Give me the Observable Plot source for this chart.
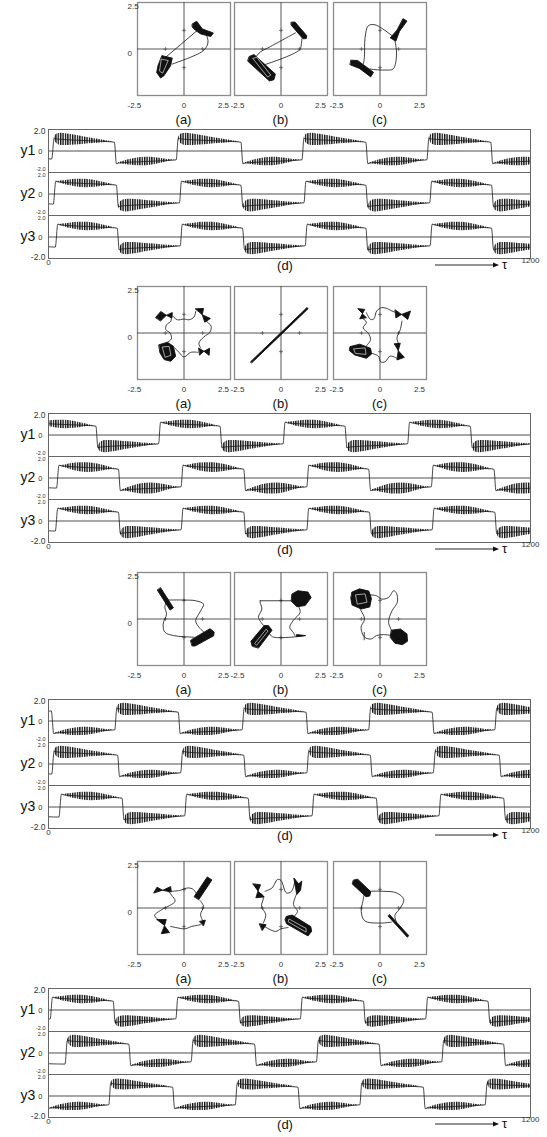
<!DOCTYPE html>
<html><head><meta charset="utf-8">
<script src="https://cdn.jsdelivr.net/npm/d3@7"></script>
<script src="https://cdn.jsdelivr.net/npm/@observablehq/plot@0.6"></script>
<style>
body{margin:0;background:#fff;}
#root{position:relative;width:547px;height:1137px;overflow:hidden;font-family:"Liberation Sans",Arial,sans-serif;color:#111;}
#root svg{overflow:visible;background:transparent;}
</style></head><body>
<svg width="0" height="0" style="position:absolute"><defs>
<pattern id="osc" width="2.4" height="8" patternUnits="userSpaceOnUse"><rect x="0" y="0" width="1.35" height="8" fill="#0d0d0d"/></pattern>
</defs></svg>
<div id="root"></div>
<script>
// ---------------- DATA ----------------
const portraitTicks = [-2.5, 0, 2.5];
const minorTicks = [-1, 1];
const panelNames = ["(a)", "(b)", "(c)"];
const rowNames = ["y1", "y2", "y3"];
const tsTicks = [2, 0, -2];
const timeTicks = [0, 1200];

// phase portraits: thin trajectories, dense (filled) attractor regions, inner loops
const b1_lines = [
  [[[-0.99,-0.45],[0.81,1.08]], [[-0.63,-0.81],[0.99,-0.13],[1.25,0.2],[1.29,0.45],[1.22,0.72]]],
  [[[-1.35,-0.42],[-1.1,-0.15],[-0.72,0.05],[0.78,0.87]], [[-0.9,-0.85],[0.99,-0.05],[1.1,0.3],[1.12,0.54]]],
  [[[-0.89,-0.80],[-0.84,-0.45],[-0.80,0.63],[-0.63,1.25],[-0.27,1.30],[0.54,0.80],[0.71,0.66]],
   [[0.80,0.45],[0.89,-0.27],[0.71,-1.07],[0.27,-1.13],[-0.27,-1.11],[-0.54,-1.07]]]
];
const b1_blobs = [
  [[[0.45,1.35],[0.68,1.49],[0.99,1.08],[1.58,0.86],[1.44,0.67],[0.90,0.81],[0.63,0.99],[0.45,1.17]],
   [[-1.17,-0.36],[-0.63,-0.49],[-0.72,-0.90],[-1.08,-1.44],[-1.26,-1.56],[-1.47,-1.26],[-1.40,-0.90]]],
  [[[0.56,1.44],[0.75,1.45],[1.38,0.72],[1.36,0.56],[1.18,0.55],[0.55,1.28]],
   [[-1.70,-0.40],[-1.45,-0.30],[-0.30,-1.35],[-0.38,-1.65],[-0.62,-1.72],[-1.78,-0.66]]],
  [[[1.25,1.62],[1.45,1.50],[1.05,0.95],[0.85,0.42],[0.55,0.6],[0.9,1.0]],
   [[-1.55,-0.6],[-1.2,-0.62],[-0.35,-1.25],[-0.5,-1.5],[-1.1,-1.05],[-1.6,-0.85]]]
];
const b1_holes = [
  [[[-1.2,-0.55],[-0.85,-0.62],[-1.15,-1.3],[-1.3,-1.2]]],
  [[[-1.5,-0.5],[-1.3,-0.45],[-0.55,-1.4],[-0.7,-1.5]]],
  []
];

const b2_lines = [
  [[[-0.63,0.93],[-0.36,0.71],[0,0.75],[0.27,0.71],[0.54,0.86],[0.63,1.16]],
   [[1.21,0.63],[1.46,0.36],[1.39,0.04],[1.07,-0.21],[0.8,-0.54],[0.89,-0.8]],
   [[0.75,-1.04],[0.36,-1.04],[0,-1.29],[-0.27,-1.04],[-0.5,-0.8]],
   [[-0.89,-0.5],[-0.68,-0.32],[-0.75,0],[-0.98,0.18],[-0.93,0.45],[-0.71,0.63],[-0.68,0.86]]],
  [],
  [[[-0.73,1.09],[-0.51,0.73],[-0.33,0.76],[-0.18,1.18],[0.09,1.36],[0.4,1.31],[0.64,1.18],[0.91,1.09]],
   [[1.18,0.64],[1.09,0.18],[0.91,-0.27],[1.0,-0.58]],
   [[0.91,-1.36],[0.55,-1.24],[0.27,-1.55],[0.04,-1.55],[-0.09,-1.24],[-0.45,-1.09]],
   [[-0.73,-0.69],[-0.51,-0.36],[-0.64,0],[-0.91,0.27],[-0.73,0.58],[-0.91,0.76]]]
];
const b2_blobs = [
  [[[-1.52,0.84],[-1.25,1.16],[-0.95,0.95],[-0.63,1.1],[-0.65,0.8],[-0.95,0.95],[-1.25,0.66]],
   [[0.62,1.3],[1.05,1.32],[0.98,0.98],[1.42,0.78],[1.12,0.58],[0.98,0.98]],
   [[-1.34,-0.63],[-0.89,-0.5],[-0.57,-0.71],[-0.45,-1.25],[-0.71,-1.52],[-1.07,-1.43],[-1.29,-1.07]],
   [[0.8,-0.82],[1.07,-0.98],[1.38,-0.82],[1.35,-1.2],[1.07,-0.98],[0.85,-1.18]]],
  [[[-1.63,-1.54],[1.40,1.37],[1.46,1.31],[-1.57,-1.60]]],
  [[[-1.18,1.31],[-0.82,1.27],[-0.95,1.03],[-0.73,0.82],[-1.09,0.76],[-0.95,1.03]],
   [[0.82,1.24],[1.16,1.0],[1.64,1.18],[1.49,0.73],[1.16,1.0],[0.87,0.82]],
   [[-1.6,-0.73],[-1.09,-0.6],[-0.51,-0.82],[-0.45,-1.13],[-0.73,-1.36],[-1.36,-1.18],[-1.64,-0.95]],
   [[0.78,-0.58],[1.09,-0.55],[0.98,-0.95],[1.31,-1.31],[0.91,-1.45],[0.98,-0.95]]]
];
const b2_holes = [
  [[[-1.15,-0.75],[-0.8,-0.72],[-0.7,-1.2],[-1.0,-1.3]]],
  [],
  [[[-1.4,-0.85],[-0.8,-0.8],[-0.75,-1.15],[-1.3,-1.1]]]
];

const b3_lines = [
  [[[-0.85,1.02],[-0.02,1.02],[0.63,0.98],[1.05,0.80],[0.90,0.45],[0.63,-0.09],[0.81,-0.45],[1.18,-0.80]],
   [[0.53,-0.98],[-0.02,-0.95],[-0.57,-0.89],[-1.03,-0.71],[-1.12,-0.27],[-0.94,0.27],[-1.03,0.63],[-0.94,0.98]]],
  [[[-1.12,0.98],[0.56,0.98]],
   [[-0.93,-0.36],[-1.21,0.09],[-1.03,0.54],[-1.12,0.89],[-1.12,0.98]],
   [[0.93,0.71],[1.03,0.36],[0.65,-0.09],[0.47,-0.45],[0.65,-0.71],[0.75,-0.89]],
   [[-0.7,-0.6],[-0.47,-0.95],[1.31,-0.89]]],
  [[[-0.56,1.30],[-0.19,1.25],[0.09,1.07],[0.46,1.16],[0.74,1.52],[0.89,1.38],[0.93,0.89],[0.65,0.45],[0.46,-0.18],[0.65,-0.66]],
   [[0.65,-0.89],[0.19,-0.84],[-0.19,-0.89],[-0.46,-1.07],[-0.83,-0.98],[-1.02,-0.45],[-0.83,0],[-1.02,0.45],[-1.11,0.63]],
   [[-0.85,-0.72],[-0.85,-1.12]]]
];
const b3_blobs = [
  [[[-1.25,1.67],[-0.57,0.60],[-0.75,0.48],[-1.43,1.55]],
   [[0.36,-1.15],[0.5,-1.05],[1.4,-0.52],[1.62,-0.7],[1.6,-0.9],[0.6,-1.45],[0.45,-1.45]]],
  [[[0.6,1.35],[0.9,1.52],[1.45,1.45],[1.62,1.15],[1.3,0.72],[0.85,0.66],[0.56,0.95]],
   [[-1.55,-1.45],[-1.62,-1.2],[-0.9,-0.35],[-0.68,-0.35],[-0.48,-0.6],[-1.2,-1.55]],
   [[0.85,-0.84],[1.31,-0.89],[0.85,-0.95]]],
  [[[-1.5,1.45],[-1.1,1.62],[-0.6,1.5],[-0.46,1.1],[-0.55,0.65],[-1.0,0.54],[-1.5,0.75],[-1.57,1.1]],
   [[0.62,-0.6],[1.1,-0.54],[1.45,-0.8],[1.48,-1.2],[1.2,-1.38],[0.8,-1.3],[0.56,-1.0]]]
];
const b3_holes = [
  [],
  [[[-1.4,-1.3],[-0.8,-0.55],[-0.7,-0.65],[-1.3,-1.4]]],
  [[[-1.3,1.3],[-0.8,1.35],[-0.7,0.9],[-1.2,0.8]]]
];

const b4_lines = [
  [[[-0.63,0.90],[-0.25,0.94],[0.23,1.08],[0.51,0.99],[0.70,0.72]],
   [[0.86,0.40],[1.05,0.09],[0.89,-0.36],[1.08,-0.81]],
   [[0.89,-0.90],[0.42,-0.99],[0.04,-1.12],[-0.44,-1.05],[-0.72,-0.99]],
   [[-1.39,-0.63],[-1.58,-0.40],[-1.20,-0.09],[-0.48,0.36],[-0.67,0.69],[-0.82,0.87]]],
  [[[-0.86,0.90],[-0.48,1.08],[-0.19,1.53],[0,1.48],[0.29,0.81],[0.57,0.90],[0.76,1.53]],
   [[0.82,0.72],[0.67,0.18],[0.89,-0.18],[0.57,-0.58]],
   [[0.38,-1.05],[0,-1.12],[-0.29,-1.26],[-0.67,-1.12],[-0.89,-0.99]],
   [[-0.95,-0.81],[-0.82,-0.36],[-1.05,0.09],[-0.95,0.54],[-1.05,0.76]]],
  [[[-0.59,0.90],[0.13,0.90],[0.90,0.81],[1.28,0.45],[1.09,0],[0.80,-0.40],[0.90,-0.81]],
   [[0.61,-0.76],[0.04,-0.81],[-0.82,-0.69],[-1.01,-0.18],[-0.92,0.36],[-0.86,0.69]]]
];
const b4_blobs = [
  [[[0.55,0.62],[1.25,1.67],[1.50,1.51],[0.80,0.46]],
   [[-1.62,0.82],[-1.45,1.12],[-1.15,0.95],[-0.72,1.15],[-0.68,0.86],[-1.15,0.95]],
   [[-1.45,-0.62],[-0.95,-0.62],[-1.05,-0.95],[-0.78,-1.32],[-1.22,-1.38],[-1.05,-0.95]],
   [[0.85,-0.72],[1.15,-0.65],[1.05,-0.95]]],
  [[[-1.5,1.3],[-1.1,1.25],[-1.24,0.9],[-0.9,0.6],[-1.35,0.55],[-1.24,0.9]],
   [[0.7,1.6],[0.95,1.3],[1.12,1.45],[1.05,0.95],[0.85,0.72],[0.78,1.1]],
   [[-1.15,-0.85],[-0.8,-0.9],[-1.0,-1.2]],
   [[0.3,-0.45],[0.6,-0.38],[1.6,-1.0],[1.65,-1.25],[1.45,-1.5],[0.3,-0.85],[0.22,-0.65]]],
  [[[-1.42,1.5],[-1.2,1.55],[-0.5,0.88],[-0.55,0.65],[-0.75,0.6],[-1.48,1.28]],
   [[0.52,-0.36],[1.55,-1.49],[1.47,-1.57],[0.44,-0.44]]]
];
const b4_holes = [
  [],
  [[[0.45,-0.6],[1.35,-1.1],[1.35,-1.3],[0.4,-0.75]]],
  []
];

// time series: switching times (tau) for y1, y2, y3
const b1_switch = [[11,166,320,481,633,792,944,1103],[15,171,328,481,638,792,951,1105],[20,173,330,485,641,792,952,1105]];
const b2_switch = [[120,276,429,586,740,896,1052],[23,176,332,488,645,799,955,1111],[20,176,332,488,645,801,957,1113]];
const b3_switch = [[10,167,325,484,643,799,957,1113],[11,174,331,488,645,803,960,1124],[29,185,341,499,658,818,974,1135]];
const b4_switch = [[7,163,319,475,629,786,941,1096],[44,202,357,515,669,825,981,1135],[152,311,467,623,777,935,1089]];
// sign of the first plateau
const b1_sign = [-1,-1,-1], b2_sign = [1,-1,-1], b3_sign = [1,-1,-1], b4_sign = [-1,-1,-1];
// initial value when the series starts flat (null: starts inside an oscillating plateau)
const b1_init = [-0.8,-1.0,-1.0], b2_init = [null,-1.0,-1.0], b3_init = [1.0,-1.0,-1.0], b4_init = [-0.9,-1.1,null];
// oscillation envelope: [upper amplitude, upper shape, lower amplitude, lower shape]
const b1_env = [[0.62,"early",0.44,"mid"],[0.44,"mid",0.64,"early"],[0.44,"mid",0.62,"early"]];
const b2_env = [[0.44,"mid",0.62,"early"],[0.5,"mid",0.56,"mid"],[0.44,"mid",0.62,"early"]];
const b3_env = [[0.62,"early",0.42,"mid"],[0.62,"early",0.42,"mid"],[0.44,"mid",0.62,"early"]];
const b4_env = [[0.44,"mid",0.58,"early"],[0.62,"early",0.42,"mid"],[0.56,"early",0.42,"mid"]];
// plateau shape (fraction of plateau, relative envelope, centre level)
const envFrac = [0, 0.04, 0.12, 0.22, 0.35, 0.5, 0.65, 0.8, 0.92, 1];
const envEarly = [0, 0.75, 1, 0.95, 0.8, 0.6, 0.42, 0.22, 0.07, 0];
const envMid = [0, 0.1, 0.35, 0.65, 0.92, 1, 0.8, 0.4, 0.1, 0];
const plateauLevel = [1.3, 1.24, 1.19, 1.15, 1.11, 1.07, 1.03, 0.99, 0.95, 0.9];
const halfPeriod = 156;

// ---------------- LAYOUT ----------------
const blocks = [
  {lines:b1_lines, blobs:b1_blobs, holes:b1_holes, sw:b1_switch, sign:b1_sign, init:b1_init, env:b1_env},
  {lines:b2_lines, blobs:b2_blobs, holes:b2_holes, sw:b2_switch, sign:b2_sign, init:b2_init, env:b2_env},
  {lines:b3_lines, blobs:b3_blobs, holes:b3_holes, sw:b3_switch, sign:b3_sign, init:b3_init, env:b3_env},
  {lines:b4_lines, blobs:b4_blobs, holes:b4_holes, sw:b4_switch, sign:b4_sign, init:b4_init, env:b4_env}
];
const BLOCK_TOP = [0, 284, 570, 859];
const BOX_LEFT = [137, 234, 333], BOX = 93, BOX_TOP = 2;
const TS_TOP = 129, PANEL_H = 43, TS_LEFT = 48, TS_RIGHT = 530;
const FONT = '"Liberation Sans", Arial, sans-serif';

const root = document.getElementById("root");
function place(el, left, top, w, h) {
  const d = document.createElement("div");
  d.style.cssText = `position:absolute;left:${left}px;top:${top}px;width:${w}px;height:${h}px;`;
  d.appendChild(el); root.appendChild(d);
}
function label(text, cx, top, size) {
  const d = document.createElement("div");
  d.textContent = text;
  d.style.cssText = `position:absolute;left:${cx}px;top:${top}px;transform:translateX(-50%);font-size:${size}px;line-height:1;white-space:nowrap;color:#111;`;
  root.appendChild(d);
}
const toPts = paths => paths.flatMap((p, i) => p.map(([x, y]) => ({x, y, z: i})));
const fmt = d => d === 0 ? "0" : d.toFixed(1);

function portrait(lines, blobs, holes, idx) {
  const ml = 30, mr = 10, mt = 6, mb = 18;
  const tlab = {fill: "#333", fontSize: 8};
  const marks = [
    Plot.frame({stroke: "#8c8c8c", strokeWidth: 1.3}),
    Plot.ruleX([0], {stroke: "#444", strokeWidth: 0.9}),
    Plot.ruleY([0], {stroke: "#444", strokeWidth: 0.9}),
    Plot.dot(minorTicks, {x: d => d, y: () => 0, symbol: "plus", r: 1.3, stroke: "#555", strokeWidth: 0.8}),
    Plot.dot(minorTicks, {x: () => 0, y: d => d, symbol: "plus", r: 1.3, stroke: "#555", strokeWidth: 0.8}),
    Plot.line(toPts(lines), {x: "x", y: "y", z: "z", stroke: "#111", strokeWidth: 0.8, curve: "catmull-rom"}),
    Plot.line(toPts(blobs), {x: "x", y: "y", z: "z", fill: "#111", stroke: "#111", strokeWidth: 0.9, strokeLinejoin: "round", curve: "linear-closed"}),
    Plot.line(toPts(holes), {x: "x", y: "y", z: "z", stroke: "#fff", strokeWidth: 0.6, curve: "linear-closed"}),
    Plot.text([0], {x: d => d, y: () => -2.5, text: fmt, dy: 10, ...tlab}),
    Plot.text([2.5], {x: d => d, y: () => -2.5, text: fmt, dy: 10, dx: -7, ...tlab})
  ];
  if (idx === 0) {
    marks.push(Plot.text([2.5, 0], {frameAnchor: "left", y: d => d, text: fmt, dx: -10, dy: 4, ...tlab}));
    marks.push(Plot.text([-2.5], {frameAnchor: "left", y: d => d, text: fmt, dx: -10, dy: 10, ...tlab}));
  } else {
    marks.push(Plot.text([-2.5], {x: d => d, y: () => -2.5, text: fmt, dx: 3, dy: 10, ...tlab}));
  }
  const p = Plot.plot({
    width: BOX + ml + mr, height: BOX + mt + mb,
    marginLeft: ml, marginRight: mr, marginTop: mt, marginBottom: mb,
    x: {domain: [-2.5, 2.5], axis: null}, y: {domain: [-2.5, 2.5], axis: null},
    style: {overflow: "visible", background: "transparent", fontFamily: FONT},
    marks
  });
  return {el: p, ml, mt, w: BOX + ml + mr, h: BOX + mt + mb};
}

function buildRow(sw, sign0, init, env) {
  const bounds = [0, ...sw, 1200];
  const line = [], band = [];
  for (let i = 0; i < bounds.length - 1; i++) {
    const s = sign0 * (i % 2 === 0 ? 1 : -1);
    const a = bounds[i], b = bounds[i + 1];
    if (i === 0 && init !== null) {
      line.push({t: 0, c: init});
      line.push({t: b - 3, c: init * 1.03});
      continue;
    }
    const va = i === 0 ? sw[0] - halfPeriod : a;
    const vb = i === bounds.length - 2 ? sw[sw.length - 1] + halfPeriod : b;
    const amp = s > 0 ? env[0] : env[2];
    const shape = (s > 0 ? env[1] : env[3]) === "early" ? envEarly : envMid;
    const t0 = va + 3, t1 = vb - 2;
    envFrac.forEach((f, k) => {
      const t = t0 + f * (t1 - t0);
      const c = s * plateauLevel[k];
      const h = amp * shape[k];
      line.push({t, c});
      band.push({t, lo: c - h, hi: c + h, seg: i});
    });
  }
  return {line, band};
}

function tsPanel(row, k, name) {
  const marks = [
    Plot.ruleY([0], {stroke: "#3a3a3a", strokeWidth: 0.9}),
    Plot.areaY(row.band, {x: "t", y1: "lo", y2: "hi", z: "seg", fill: "url(#osc)", curve: "monotone-x", clip: true}),
    Plot.line(row.line, {x: "t", y: "c", stroke: "#1a1a1a", strokeWidth: 0.8, curve: "monotone-x", clip: true}),
    Plot.frame({stroke: "#666", strokeWidth: 1}),
    Plot.text([name], {frameAnchor: "left", dx: -28, fontSize: 14, fill: "#111"}),
    Plot.text([tsTicks[0]], {frameAnchor: "left", y: d => d, text: fmt, textAnchor: "end", dx: -3, dy: k === 0 ? 0 : 1, fontSize: k === 0 ? 8.5 : 5.5, fill: "#333"}),
    Plot.text([tsTicks[1]], {frameAnchor: "left", y: d => d, text: fmt, textAnchor: "end", dx: -6, dy: 1, fontSize: 7.5, fill: "#333"}),
    Plot.text([tsTicks[2]], {frameAnchor: "left", y: d => d, text: fmt, textAnchor: "end", dx: -3, dy: k === 2 ? 1 : -1, fontSize: k === 2 ? 8.5 : 5.5, fill: "#333"})
  ];
  if (k === 2) {
    marks.push(Plot.text([timeTicks[0]], {x: d => d, frameAnchor: "bottom", text: d => String(d), dy: 6, fontSize: 8, fill: "#333"}));
    marks.push(Plot.text([timeTicks[1]], {x: d => d, frameAnchor: "bottom", text: d => String(d), dy: 4, fontSize: 8, fill: "#333"}));
  }
  return Plot.plot({
    width: 547, height: PANEL_H,
    marginLeft: TS_LEFT, marginRight: 547 - TS_RIGHT, marginTop: 0, marginBottom: 0,
    x: {domain: [0, 1200], axis: null}, y: {domain: [-2.2, 2.2], axis: null},
    style: {overflow: "visible", background: "transparent", fontFamily: FONT},
    marks
  });
}

blocks.forEach((B, bi) => {
  const top = BLOCK_TOP[bi];
  for (let j = 0; j < 3; j++) {
    const p = portrait(B.lines[j], B.blobs[j], B.holes[j], j);
    place(p.el, BOX_LEFT[j] - p.ml, top + BOX_TOP - p.mt, p.w, p.h);
    label(panelNames[j], BOX_LEFT[j] + BOX / 2, top + 113, 13);
  }
  for (let k = 0; k < 3; k++) {
    const row = buildRow(B.sw[k], B.sign[k], B.init[k], B.env[k]);
    place(tsPanel(row, k, rowNames[k]), 0, top + TS_TOP + k * PANEL_H, 547, PANEL_H);
  }
  label("(d)", 285, top + 259, 13);
  const d = document.createElement("div");
  d.style.cssText = `position:absolute;left:434px;top:${top + 257}px;width:80px;height:16px;`;
  d.innerHTML = `<svg width="80" height="16" style="overflow:visible"><line x1="1" y1="8" x2="60" y2="8" stroke="#111" stroke-width="0.9"/><polygon points="59,5.5 65,8 59,10.5" fill="#111"/><text x="68" y="12" font-size="13" font-family='${FONT}' fill="#111">τ</text></svg>`;
  root.appendChild(d);
});
</script>
</body></html>
